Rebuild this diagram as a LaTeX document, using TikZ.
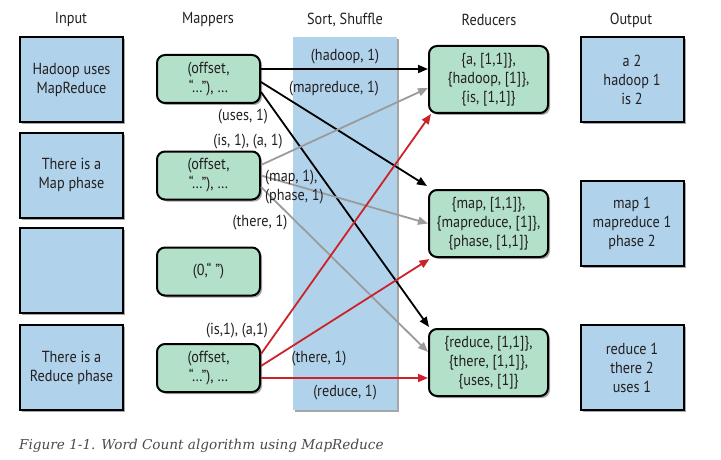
\documentclass[tikz,border=0pt]{standalone}
\usepackage{fontspec}
\setmainfont[FakeStretch=0.89]{PT Sans}
\newfontfamily\capfont{DejaVu Serif}
\usetikzlibrary{arrows.meta,shadows}
\definecolor{ink}{HTML}{231F20}
\definecolor{boxblue}{HTML}{B0D3EB}
\definecolor{boxgreen}{HTML}{B3E0C9}
\definecolor{arrgray}{HTML}{9B9B9B}
\definecolor{arrred}{HTML}{CC2229}
\definecolor{capgray}{HTML}{4A4A4A}
\begin{document}
\begin{tikzpicture}[x=1pt,y=-1pt,
  every node/.style={text=ink,font=\fontsize{16}{19}\selectfont},
  shad/.style={drop shadow={shadow xshift=2pt,shadow yshift=-2pt,fill=black,opacity=0.35}},
  inbox/.style={draw=black,line width=2pt,fill=boxblue,minimum width=103pt,minimum height=85pt,align=center,inner sep=0pt,shad},
  mapbox/.style={draw=black,line width=2pt,fill=boxgreen,rounded corners=8pt,minimum width=103pt,minimum height=48pt,align=center,inner sep=0pt,shad},
  redbox/.style={draw=black,line width=2pt,fill=boxgreen,rounded corners=8pt,minimum width=119pt,minimum height=67pt,align=center,inner sep=0pt,shad},
  header/.style={anchor=center},
  lbl/.style={anchor=center,inner sep=0pt},
  blk/.style={draw=black,line width=1.8pt,-{Triangle[length=10pt,width=8pt]}},
  gry/.style={draw=arrgray,line width=1.8pt,-{Triangle[length=10pt,width=8pt]}},
  rdd/.style={draw=arrred,line width=1.8pt,-{Triangle[length=10pt,width=8pt]}}
]
\useasboundingbox (0,0) rectangle (721,460);
% sort/shuffle column
\node[fill=boxblue,minimum width=104pt,minimum height=373pt,inner sep=0pt,shad] (col) at (345,223.5) {};
% headers
\node[header] (h1) at (71,20) {Input};
\node[header] (h2) at (208,20) {Mappers};
\node[header] (h3) at (345,20) {Sort, Shuffle};
\node[header] (h4) at (489,20) {Reducers};
\node[header] (h5) at (631,20) {Output};
% input boxes
\node[inbox] (i1) at (71.5,80) {Hadoop uses\\MapReduce};
\node[inbox] (i2) at (71.5,175) {There is a\\Map phase};
\node[inbox] (i3) at (71.5,270.5) {};
\node[inbox] (i4) at (71.5,367.5) {There is a\\Reduce phase};
% mappers
\node[mapbox] (m1) at (208.5,79) {(offset,\\“…”), …};
\node[mapbox] (m2) at (208.5,175.5) {(offset,\\“…”), …};
\node[mapbox] (m3) at (208.5,271.5) {(0,“ ”)};
\node[mapbox] (m4) at (208.5,368) {(offset,\\“…”), …};
% reducers
\node[redbox] (r1) at (488.5,79.5) {\{a, [1,1]\},\\\{hadoop, [1]\},\\\{is, [1,1]\}};
\node[redbox] (r2) at (488.5,223.5) {\{map, [1,1]\},\\\{mapreduce, [1]\},\\\{phase, [1,1]\}};
\node[redbox] (r3) at (488.5,362.5) {\{reduce, [1,1]\},\\\{there, [1,1]\},\\\{uses, [1]\}};
% outputs
\node[inbox] (o1) at (632,80) {a 2\\hadoop 1\\is 2};
\node[inbox] (o2) at (632,223.5) {map 1\\mapreduce 1\\phase 2};
\node[inbox] (o3) at (632,367.5) {reduce 1\\there 2\\uses 1};
% black arrows
\draw[blk] ([yshift=10pt]m1.east) -- ([yshift=10.5pt]r1.west);
\draw[blk] ([yshift=-3pt]m1.east) -- ([xshift=-1pt,yshift=3pt]r2.north west);
\draw[blk] ([yshift=-13pt]m1.east) -- ([xshift=1pt,yshift=1pt]r3.north west);
% gray arrows
\draw[gry] ([yshift=10.5pt]m2.east) -- ([yshift=-8.5pt]r1.west);
\draw[gry] (m2.east) -- (r2.west);
\draw[gry] ([yshift=-11.5pt]m2.east) -- ([yshift=10.5pt]r3.west);
% red arrows
\draw[rdd] ([yshift=14pt]m4.east) -- ([xshift=3pt,yshift=0pt]r1.south west);
\draw[rdd] ([yshift=2pt]m4.east) -- ([xshift=1.5pt,yshift=-1pt]r2.south west);
\draw[rdd] ([yshift=-10pt]m4.east) -- ([yshift=-15.5pt]r3.west);
% labels
\node[lbl] (l1) at (345,57) {(hadoop, 1)};
\node[lbl] (l2) at (334,89) {(mapreduce, 1)};
\node[lbl] (l3) at (243,117) {(uses, 1)};
\node[lbl] (l4) at (248,142) {(is, 1), (a, 1)};
\node[lbl,anchor=west,align=left] (l5) at (265,187) {(map, 1),\\(phase, 1)};
\node[lbl] (l6) at (260,223) {(there, 1)};
\node[lbl] (l7) at (237,331) {(is,1), (a,1)};
\node[lbl] (l8) at (319,359) {(there, 1)};
\node[lbl] (l9) at (345,393) {(reduce, 1)};
% caption
\node[anchor=west,inner sep=0pt,text=capgray,font=\capfont\itshape\fontsize{13.6}{16}\selectfont] (cap) at (19,446) {Figure 1-1. Word Count algorithm using MapReduce};
\end{tikzpicture}
\end{document}
